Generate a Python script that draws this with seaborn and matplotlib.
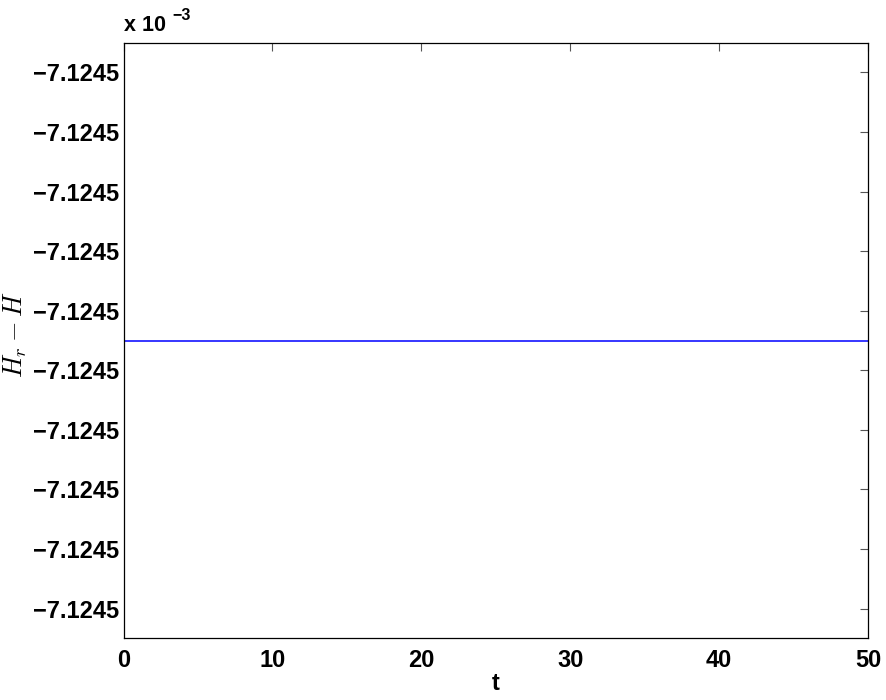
import numpy as np
import pandas as pd
import matplotlib
matplotlib.use("Agg")
import matplotlib.pyplot as plt
import seaborn as sns

# data (y in units of 1e-3)
t = [0, 5, 10, 15, 20, 25, 30, 35, 40, 45, 50]
hr_minus_h = [-7.1245, -7.1245, -7.1245, -7.1245, -7.1245, -7.1245,
              -7.1245, -7.1245, -7.1245, -7.1245, -7.1245]
y_ticks = [-7.12450000045, -7.12450000035, -7.12450000025, -7.12450000015,
           -7.12450000005, -7.12449999995, -7.12449999985, -7.12449999975,
           -7.12449999965, -7.12449999955]
y_tick_labels = ["\u22127.1245"] * 10
x_ticks = [0, 10, 20, 30, 40, 50]

df = pd.DataFrame({"t": t, "val": hr_minus_h})

sns.set_style("white")
plt.rcParams["font.family"] = ["Liberation Sans", "DejaVu Sans"]
plt.rcParams["mathtext.fontset"] = "cm"
plt.rcParams["text.color"] = "black"
plt.rcParams["axes.labelcolor"] = "black"
plt.rcParams["xtick.color"] = "black"
plt.rcParams["ytick.color"] = "black"

fig = plt.figure(figsize=(8.86, 7), dpi=100)
ax = fig.add_axes([0.1394, 0.0881, 0.8403, 0.8509])

sns.lineplot(data=df, x="t", y="val", color="#0000ff", lw=1.1, ax=ax)

ax.set_xlim(0, 50)
ax.set_ylim(-7.1245000005, -7.1244999995)
ax.set_xticks(x_ticks, labels=[str(v) for v in x_ticks])
ax.set_yticks(y_ticks, labels=y_tick_labels)

for lab in ax.get_xticklabels() + ax.get_yticklabels():
    lab.set_fontweight("bold")
    lab.set_fontsize(17)

ax.tick_params(direction="in", length=6, width=0.8, top=True, right=True)
ax.tick_params(axis="x", pad=8)
ax.tick_params(axis="y", pad=3.5)
ax.tick_params(which="both", color="#555555")
for s in ax.spines.values():
    s.set_color("black")
    s.set_linewidth(0.9)

ax.set_xlabel("t", fontsize=17, fontweight="bold", labelpad=0)
ax.set_ylabel(r"$H_r - H$", fontsize=19)
ax.yaxis.set_label_coords(-0.127, 0.51)

# offset text like matlab
ax.text(0.0, 1.012, "x 10", transform=ax.transAxes, fontsize=15.5,
        fontweight="bold", ha="left", va="bottom")
ax.annotate("\u22123", xy=(0.0, 1.012), xycoords="axes fraction",
            xytext=(35, 9), textcoords="offset points", fontsize=11.5,
            fontweight="bold", ha="left", va="bottom")

fig.savefig("out.png", dpi=100)
